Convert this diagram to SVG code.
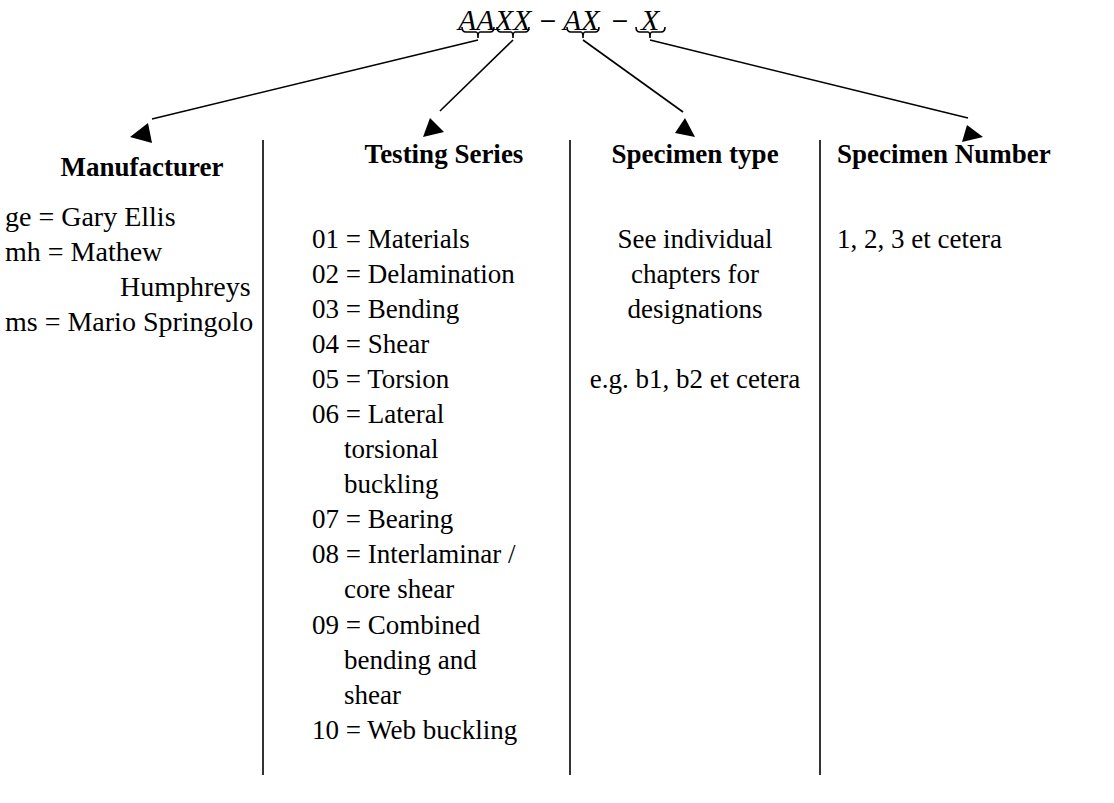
<svg xmlns="http://www.w3.org/2000/svg" width="1114" height="803" viewBox="0 0 1114 803">
<style>
.t{font-family:"Liberation Serif","Times New Roman",serif;font-size:27px;fill:#000}
.t2{font-family:"Liberation Serif","Times New Roman",serif;font-size:28px;fill:#000}
.h{font-family:"Liberation Serif","Times New Roman",serif;font-size:27px;font-weight:bold;fill:#000}
.m{font-family:"Liberation Serif","Times New Roman",serif;font-size:30px;font-style:italic;fill:#000}
.o{font-family:"DejaVu Serif","Liberation Serif",serif;font-size:22px;fill:#000}
.ln{stroke:#000;stroke-width:1.6;fill:none}
.br{stroke:#000;stroke-width:1.6;fill:none}
.ah{fill:#000}
</style>
<rect width="1114" height="803" fill="#fff"/>
<g id="formula">
<text class="m" x="458" y="30">AAXX</text>
<text class="o" x="548" y="28" text-anchor="middle">−</text>
<text class="m" x="563" y="30">AX</text>
<text class="o" x="620" y="28" text-anchor="middle">−</text>
<text class="m" x="641" y="30">X</text>
<path class="br" d="M462,27 Q462,32 466,32 L476,32 Q478,32 478,38 Q478,32 480,32 L490,32 Q494,32 494,27"/>
<path class="br" d="M497,27 Q497,32 501,32 L511,32 Q513,32 513,38 Q513,32 515,32 L525,32 Q529,32 529,27"/>
<path class="br" d="M567,27 Q567,32 571,32 L581,32 Q583,32 583,38 Q583,32 585,32 L595,32 Q599,32 599,27"/>
<path class="br" d="M636,27 Q636,32 640,32 L648,32 Q650,32 650,38 Q650,32 652,32 L661,32 Q665,32 665,27"/>
</g>
<g id="connectors">
<line class="ln" x1="478" y1="40" x2="152" y2="119"/>
<polygon class="ah" points="130,137 148,123 152,143"/>
<line class="ln" x1="513" y1="40" x2="440" y2="111"/>
<polygon class="ah" points="423,137 430,118 444,132"/>
<line class="ln" x1="583" y1="40" x2="683" y2="112"/>
<polygon class="ah" points="695,137 675,133 685,118"/>
<line class="ln" x1="650" y1="40" x2="968" y2="118"/>
<polygon class="ah" points="983,137 962,142 967,125"/>
<line class="ln" x1="263" y1="140" x2="263" y2="775"/>
<line class="ln" x1="570" y1="140" x2="570" y2="775"/>
<line class="ln" x1="820" y1="140" x2="820" y2="775"/>
</g>
<g id="manufacturer">
<text class="h" x="142" y="176" text-anchor="middle">Manufacturer</text>
<text class="t2" x="5" y="226">ge = Gary Ellis</text>
<text class="t2" x="5" y="261">mh = Mathew</text>
<text class="t2" x="120" y="296">Humphreys</text>
<text class="t2" x="5" y="331">ms = Mario Springolo</text>
</g>
<g id="testing-series">
<text class="h" x="444" y="163" text-anchor="middle">Testing Series</text>
<text class="t" x="312" y="248">01 = Materials</text>
<text class="t" x="312" y="283">02 = Delamination</text>
<text class="t" x="312" y="318">03 = Bending</text>
<text class="t" x="312" y="353">04 = Shear</text>
<text class="t" x="312" y="388">05 = Torsion</text>
<text class="t" x="312" y="423">06 = Lateral</text>
<text class="t" x="344" y="458">torsional</text>
<text class="t" x="344" y="493">buckling</text>
<text class="t" x="312" y="528">07 = Bearing</text>
<text class="t" x="312" y="563">08 = Interlaminar /</text>
<text class="t" x="344" y="598">core shear</text>
<text class="t" x="312" y="634">09 = Combined</text>
<text class="t" x="344" y="669">bending and</text>
<text class="t" x="344" y="704">shear</text>
<text class="t" x="312" y="739">10 = Web buckling</text>
</g>
<g id="specimen-type">
<text class="h" x="695" y="163" text-anchor="middle">Specimen type</text>
<text class="t" x="695" y="248" text-anchor="middle">See individual</text>
<text class="t" x="695" y="283" text-anchor="middle">chapters for</text>
<text class="t" x="695" y="318" text-anchor="middle">designations</text>
<text class="t" x="695" y="388" text-anchor="middle">e.g. b1, b2 et cetera</text>
</g>
<g id="specimen-number">
<text class="h" x="837" y="163">Specimen Number</text>
<text class="t" x="837" y="248">1, 2, 3 et cetera</text>
</g>
</svg>
